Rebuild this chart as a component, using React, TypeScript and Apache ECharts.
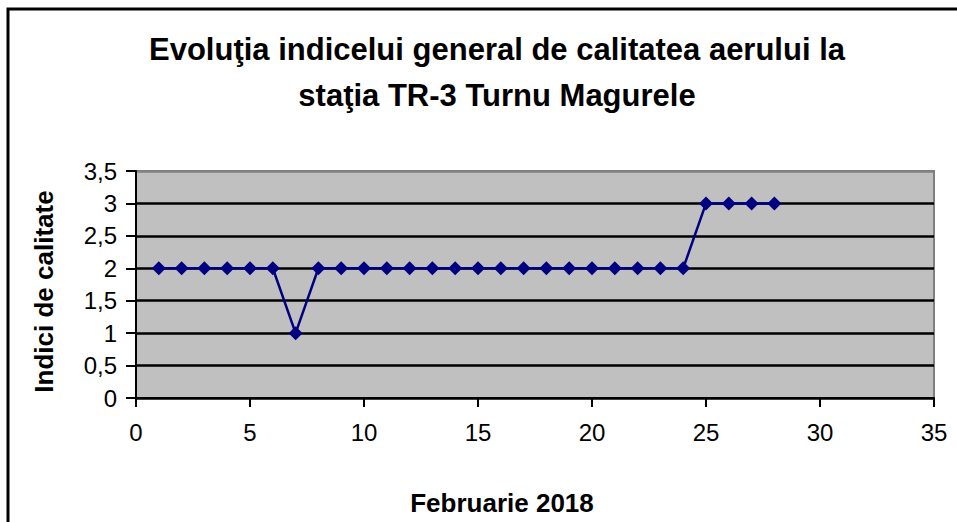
import React, { useEffect, useRef } from "react";
import * as echarts from "echarts";

const titleLines = ["Evoluţia indicelui general de calitatea aerului la", "staţia TR-3 Turnu Magurele"];
const xAxisName = "Februarie 2018";
const yAxisName = "Indici de calitate";
const days = [1, 2, 3, 4, 5, 6, 7, 8, 9, 10, 11, 12, 13, 14, 15, 16, 17, 18, 19, 20, 21, 22, 23, 24, 25, 26, 27, 28];
const indexValues = [2, 2, 2, 2, 2, 2, 1, 2, 2, 2, 2, 2, 2, 2, 2, 2, 2, 2, 2, 2, 2, 2, 2, 2, 3, 3, 3, 3];

const FONT = "Liberation Sans, Arial, sans-serif";

export default function App() {
  const ref = useRef<HTMLDivElement>(null);
  useEffect(() => {
    if (!ref.current) return;
    const chart = echarts.init(ref.current, null, { renderer: "svg" });
    chart.setOption({
      animation: false,
      backgroundColor: "#ffffff",
      title: {
        text: titleLines.join("\n"),
        left: 492,
        top: 21,
        textAlign: "center",
        textStyle: { fontFamily: FONT, fontSize: 31, fontWeight: "bold", color: "#000", lineHeight: 46 },
      },
      graphic: [
        {
          type: "rect",
          shape: { x: 8, y: 9, width: 1100, height: 1100 },
          style: { fill: "none", stroke: "#000", lineWidth: 3 },
          silent: true,
        },
      ],
      grid: {
        left: 136,
        right: 23,
        top: 171,
        bottom: 124,
        show: true,
        backgroundColor: "#C0C0C0",
        borderColor: "#808080",
        borderWidth: 2,
      },
      xAxis: {
        type: "value",
        min: 0,
        max: 35,
        interval: 5,
        name: xAxisName,
        nameLocation: "middle",
        nameGap: 92,
        nameTextStyle: { fontFamily: FONT, fontSize: 26, fontWeight: "bold", color: "#000", padding: [0, 66, 0, 0] },
        axisLine: { show: true, lineStyle: { color: "#000", width: 2 } },
        axisTick: { show: true, inside: false, length: 9, lineStyle: { color: "#000", width: 2 } },
        axisLabel: { fontFamily: FONT, fontSize: 24, color: "#000", margin: 22 },
        splitLine: { show: false },
      },
      yAxis: {
        type: "value",
        min: 0,
        max: 3.5,
        interval: 0.5,
        name: yAxisName,
        nameLocation: "middle",
        nameGap: 79,
        nameTextStyle: { fontFamily: FONT, fontSize: 26, fontWeight: "bold", color: "#000", padding: [0, 14, 0, 0] },
        axisLine: { show: true, lineStyle: { color: "#000", width: 2 } },
        axisTick: { show: true, inside: false, length: 10, lineStyle: { color: "#000", width: 2 } },
        axisLabel: {
          fontFamily: FONT,
          fontSize: 24,
          color: "#000",
          margin: 19,
          formatter: (v: number) => String(v).replace(".", ","),
        },
        splitLine: {
          show: true,
          lineStyle: { color: ["#000", "#000", "#000", "#000", "#000", "#000", "#000", "#808080"], width: 2.5 },
        },
      },
      series: [
        {
          type: "line",
          data: days.map((d, i) => [d, indexValues[i]]),
          symbol: "diamond",
          symbolSize: 14,
          itemStyle: { color: "#000080" },
          lineStyle: { color: "#000080", width: 2.5 },
        },
      ],
    });
    return () => chart.dispose();
  }, []);
  return <div ref={ref} style={{ position: "fixed", left: 0, top: 0, width: 957, height: 522 }} />;
}
